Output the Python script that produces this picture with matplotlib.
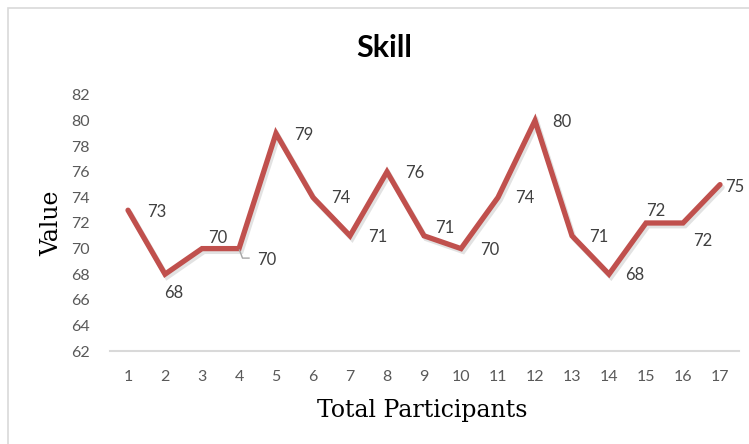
import matplotlib.pyplot as plt
import matplotlib.patheffects as pe
from matplotlib.patches import Rectangle
from matplotlib.lines import Line2D
from matplotlib.transforms import IdentityTransform

participants = list(range(1, 18))
skill = [73, 68, 70, 70, 79, 74, 71, 76, 71, 70, 74, 80, 71, 68, 72, 72, 75]
y_ticks = list(range(62, 83, 2))

# label offsets in pixels (dx, dy) - dy is upward
label_offsets = [(29, -2), (9, -19), (16, 11), (28, -11), (28, -2), (28, -1),
                 (28, -1), (28, -1), (21, 8), (29, -1), (27, -1), (27, -1),
                 (27, -1), (26, -1), (10, 12), (20, -18), (15, -2)]

W, H = 749, 444
fig = plt.figure(figsize=(W / 100, H / 100), dpi=100)
ax = fig.add_axes([109.5 / W, (H - 351) / H, (738.5 - 109.5) / W, (351 - 95) / H])

# chart border
fig.patches.append(Rectangle((8 / W, -0.1), 1.1, 1.1 - 8 / H, transform=fig.transFigure,
                             fill=False, edgecolor='#D9D9D9', linewidth=1.2))

ax.set_xlim(0.5, 17.5)
ax.set_ylim(62, 82)

ax.plot(participants, skill, color='#C0504D', linewidth=3.8, solid_joinstyle='miter',
        solid_capstyle='round',
        path_effects=[pe.SimpleLineShadow(offset=(1.5, -2), alpha=0.18, shadow_color='#606060'),
                      pe.Normal()])

for i, (x, v) in enumerate(zip(participants, skill)):
    dx, dy = label_offsets[i]
    ax.annotate(str(v), (x, v), xytext=(dx, dy), textcoords='offset pixels',
                ha='center', va='center', fontsize=12, color='#404040', family='Lato',
                annotation_clip=False)

# leader line for the 4th label
px, py = ax.transData.transform((participants[3], skill[3]))
fig.lines.append(Line2D([px + 0.5, px + 3.5, px + 10], [py - 1.5, py - 9.5, py - 9.5],
                        transform=IdentityTransform(), color='#A6A6A6', lw=1))

ax.set_xticks(participants)
ax.set_yticks(y_ticks)
for s in ['top', 'right', 'left']:
    ax.spines[s].set_visible(False)
ax.spines['bottom'].set_color('#D9D9D9')
ax.spines['bottom'].set_linewidth(1.5)
ax.tick_params(length=0, labelsize=11.5, labelcolor='#595959')
ax.tick_params(axis='x', pad=14)
ax.tick_params(axis='y', pad=14)
for lab in ax.get_xticklabels() + ax.get_yticklabels():
    lab.set_family('Lato')

fig.text(384 / W, 1 - 48 / H, 'Skill', ha='center', va='center', fontsize=22,
         fontweight='bold', family='Lato')
fig.text(52 / W, 1 - 223 / H, 'Value', rotation=90, ha='center', va='center',
         fontsize=17, family='DejaVu Serif')
fig.text(422 / W, 1 - 410 / H, 'Total Participants', ha='center', va='center',
         fontsize=17, family='DejaVu Serif')

fig.savefig('out.png', dpi=100)
